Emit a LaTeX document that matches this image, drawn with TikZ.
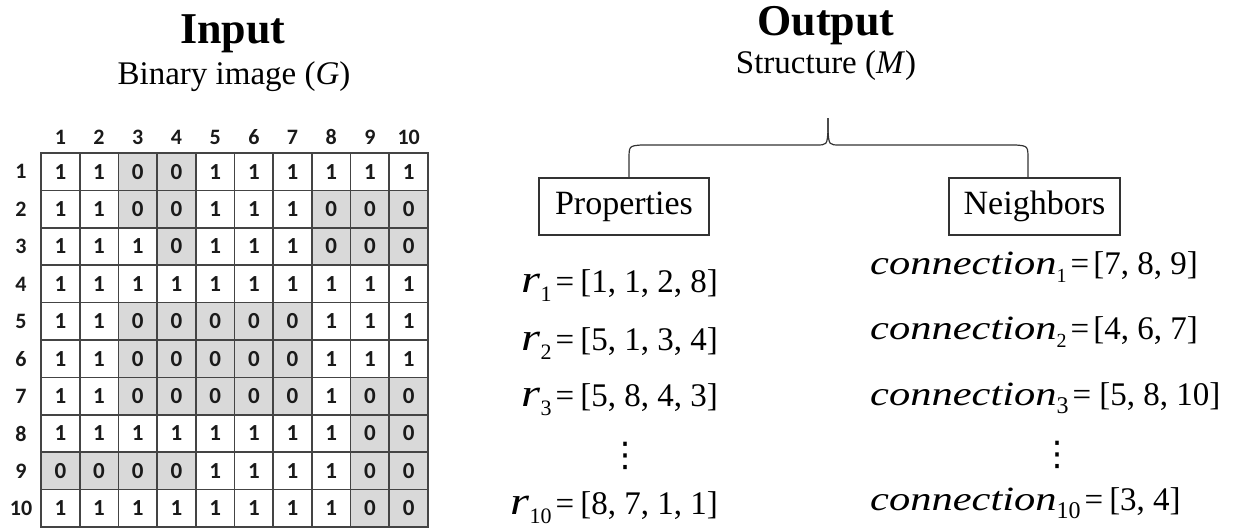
\documentclass[tikz,border=0pt]{standalone}
\usepackage{fontspec}
\setmainfont{Liberation Serif}
\newfontfamily\slantfont{Liberation Serif}[FakeStretch=1.25]
\newfontfamily\cellfont{Carlito}
\newfontfamily\symfont{DejaVu Sans}

\definecolor{gridgray}{HTML}{444444}
\definecolor{zerogray}{HTML}{D9D9D9}
\definecolor{inkgray}{HTML}{1A1A1A}
\definecolor{boxgray}{HTML}{333333}

% r with a numeric subscript
\newcommand\rvar[1]{{\slantfont\itshape\fontsize{39}{39}\selectfont r}\raisebox{-9pt}{\fontsize{22}{22}\selectfont #1}}
% connection with a numeric subscript: #1 index, #2 size, #3 drop
\newcommand\cvar[3]{{\slantfont\itshape\fontsize{34}{34}\selectfont connection}\raisebox{-#3}{\fontsize{#2}{#2}\selectfont #1}}

\begin{document}
\begin{tikzpicture}[x=1pt,y=-1pt,
  cell/.style={draw=gridgray, line width=1.7pt, minimum width=38.7pt,
    minimum height=37.4pt, inner sep=0pt, text=inkgray,
    font=\cellfont\bfseries\fontsize{23}{23}\selectfont},
  val0/.style={fill=zerogray},
  val1/.style={fill=white},
  idx/.style={inner sep=0pt, text=inkgray,
    font=\cellfont\bfseries\fontsize{22}{22}\selectfont},
  title/.style={inner sep=0pt, anchor=base, font=\bfseries\fontsize{44}{44}\selectfont},
  subtitle/.style={inner sep=0pt, anchor=base, font=\fontsize{33}{33}\selectfont},
  partbox/.style={draw=boxgray, line width=1.3pt, minimum width=170pt,
    minimum height=57pt, inner sep=0pt, font=\fontsize{34}{34}\selectfont},
  bracestyle/.style={draw=boxgray, line width=1.2pt},
  lform/.style={inner sep=0pt, anchor=base east, font=\fontsize{33}{33}\selectfont},
  rform/.style={inner sep=0pt, anchor=base west, font=\fontsize{33}{33}\selectfont},
  dots/.style={inner sep=0pt, font=\symfont\fontsize{34}{34}\selectfont}
]
\useasboundingbox (0,0) rectangle (1241,527);

% ---- binary image grid ----
\foreach \row [count=\i] in {
  {1,1,0,0,1,1,1,1,1,1},
  {1,1,0,0,1,1,1,0,0,0},
  {1,1,1,0,1,1,1,0,0,0},
  {1,1,1,1,1,1,1,1,1,1},
  {1,1,0,0,0,0,0,1,1,1},
  {1,1,0,0,0,0,0,1,1,1},
  {1,1,0,0,0,0,0,1,0,0},
  {1,1,1,1,1,1,1,1,0,0},
  {0,0,0,0,1,1,1,1,0,0},
  {1,1,1,1,1,1,1,1,0,0}} {
  \node[idx] (row-\i) at (21,{153+37.4*(\i-0.5)}) {\i};
  \foreach \v [count=\j] in \row {
    \node[cell, val\v] (c-\i-\j) at ({41+38.7*(\j-0.5)},{153+37.4*(\i-0.5)}) {\v};
  }
}
\foreach \j in {1,...,10}
  \node[idx] (col-\j) at ({41+38.7*(\j-0.5)},137) {\j};

% ---- titles ----
\node[title] (input) at (233,44) {Input};
\node[subtitle] (binimg) at (234,84) {Binary image (\textit{G})};
\node[title] (output) at (826,36) {Output};
\node[subtitle] (struct) at (826,74) {Structure (\textit{M})};

% ---- structure parts ----
\node[partbox] (prop) at (624,206.5) {Properties};
\node[partbox, minimum width=171pt] (neigh) at (1034.5,206.5) {Neighbors};

\coordinate (tip) at (828,118);
\draw[bracestyle] ([xshift=5pt]prop.north) -- (629,160)
  .. controls (629,146) .. (641,145) -- (816,145)
  .. controls (827,145) .. (828,131) -- (tip);
\draw[bracestyle] (tip) -- (828,131)
  .. controls (829,145) .. (840,145) -- (1016,145)
  .. controls (1028,146) .. (1028,160) -- ([xshift=-6.5pt]neigh.north);

% ---- properties ----
\node[lform] (r1) at (718,292) {\rvar{1}\hspace{4pt}=\hspace{6pt}[1, 1, 2, 8]};
\node[lform] (r2) at (718,350) {\rvar{2}\hspace{4pt}=\hspace{6pt}[5, 1, 3, 4]};
\node[lform] (r3) at (718,406) {\rvar{3}\hspace{4pt}=\hspace{6pt}[5, 8, 4, 3]};
\node[dots] (rdots) at (625,456) {⋮};
\node[lform] (r10) at (718,514) {\rvar{10}\hspace{4pt}=\hspace{6pt}[8, 7, 1, 1]};

% ---- neighbors ----
\node[rform] (n1) at (870,274) {\cvar{1}{20}{8pt}\hspace{4pt}=\hspace{4pt}[7, 8, 9]};
\node[rform] (n2) at (870,339) {\cvar{2}{20}{8pt}\hspace{4pt}=\hspace{4pt}[4, 6, 7]};
\node[rform] (n3) at (870,405) {\cvar{3}{24}{8pt}\hspace{4pt}=\hspace{8pt}[5, 8, 10]};
\node[dots] (ndots) at (1057,455) {⋮};
\node[rform] (n10) at (870,510) {\cvar{10}{24}{8pt}\hspace{4pt}=\hspace{6pt}[3, 4]};
\end{tikzpicture}
\end{document}
